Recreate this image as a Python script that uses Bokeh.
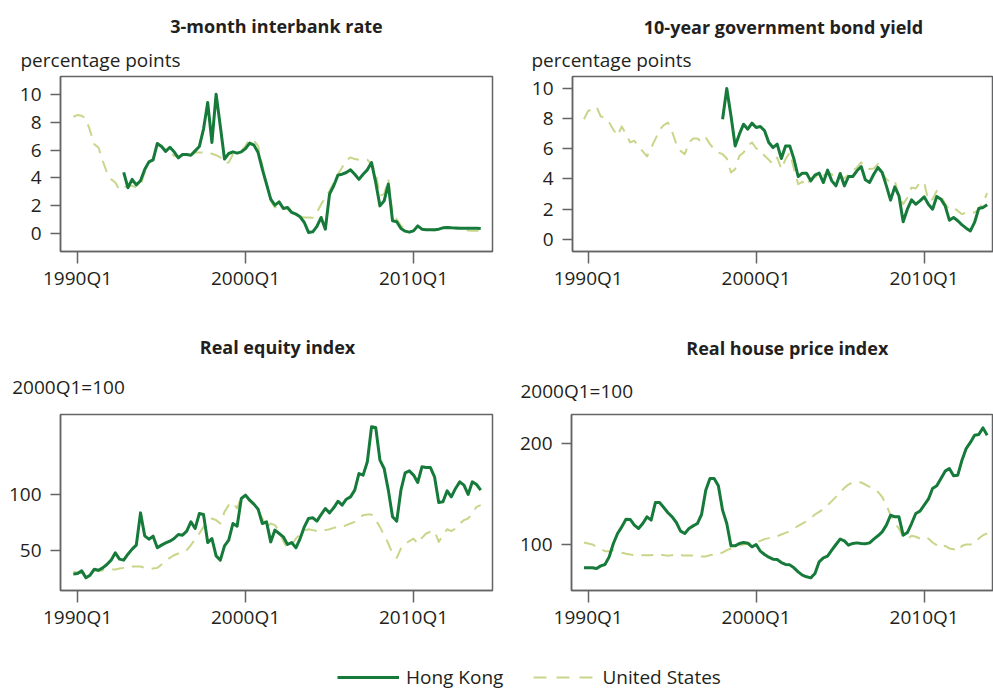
from bokeh.plotting import figure
from bokeh.models import (Range1d, FixedTicker, Label, Legend, LegendItem,
                          CustomJSTickFormatter)
from bokeh.layouts import row, column
from bokeh.embed import file_html
from bokeh.resources import INLINE

# ---------------- data (quarterly) ----------------
us_rate_start = "1989Q4"
us_rate = [8.38, 8.5, 8.45, 8.26, 7.37, 6.42, 6.18, 5.23, 4.39, 3.91,
           3.67, 3.15, 3.32, 3.44, 3.44, 3.32, 3.48, 4.39, 5.06, 5.39,
           6.42, 6.3, 6.01, 5.82, 5.58, 5.54, 5.63, 5.63, 5.63, 5.82,
           5.82, 5.82, 5.82, 5.73, 5.63, 5.47, 5.06, 5.1, 5.7, 5.82,
           5.94, 6.3, 6.78, 6.66, 6.3, 4.87, 3.67, 2.36, 1.89, 2.0,
           1.89, 1.77, 1.53, 1.34, 1.22, 1.17, 1.17, 1.15, 1.53, 2.12,
           2.6, 3.08, 3.67, 4.27, 4.75, 5.3, 5.47, 5.35, 5.3, 5.3,
           5.3, 4.99, 4.39, 2.72, 2.84, 3.91, 1.41, 1.05, 0.57, 0.33,
           0.21, 0.21, 0.53, 0.33, 0.29, 0.29, 0.24, 0.33, 0.43, 0.48,
           0.43, 0.4, 0.33, 0.29, 0.24, 0.21, 0.21, 0.21]
hk_rate_start = "1992Q4"
hk_rate = [4.4, 3.3, 3.9, 3.5, 3.8, 4.6, 5.15, 5.3, 6.47, 6.25,
           5.9, 6.2, 5.87, 5.44, 5.68, 5.68, 5.63, 5.94, 6.25, 7.5,
           9.4, 6.54, 10.0, 7.7, 5.35, 5.75, 5.87, 5.78, 5.87, 6.1,
           6.5, 6.35, 5.82, 4.63, 3.56, 2.48, 2.05, 2.29, 1.81, 1.89,
           1.53, 1.41, 1.22, 0.81, 0.1, 0.14, 0.53, 1.17, 0.33, 2.84,
           3.44, 4.2, 4.27, 4.39, 4.58, 4.27, 3.9, 4.27, 4.58, 5.1,
           3.68, 2.0, 2.36, 3.56, 0.93, 0.86, 0.38, 0.19, 0.12, 0.21,
           0.57, 0.33, 0.29, 0.29, 0.29, 0.33, 0.43, 0.45, 0.43, 0.42,
           0.4, 0.4, 0.4, 0.4, 0.4, 0.38]

us_bond_start = "1989Q4"
us_bond = [7.96, 8.52, 8.58, 8.78, 8.14, 8.08, 7.74, 7.26, 6.86, 7.48,
           6.97, 6.42, 6.53, 6.15, 5.82, 5.49, 6.08, 6.64, 7.26, 7.57,
           7.74, 7.12, 6.31, 5.86, 5.64, 6.42, 6.68, 6.68, 6.46, 6.75,
           6.31, 5.97, 5.75, 5.64, 5.35, 4.42, 4.65, 5.53, 5.75, 6.19,
           6.42, 6.02, 5.93, 5.53, 5.27, 4.98, 5.42, 4.65, 5.31, 5.75,
           4.65, 3.65, 3.81, 3.54, 4.03, 4.2, 3.98, 4.2, 4.42, 4.31,
           3.98, 4.2, 4.03, 4.31, 4.54, 4.76, 5.09, 4.76, 4.65, 4.69,
           4.98, 4.42, 3.98, 3.76, 3.87, 2.88, 2.32, 2.77, 3.43, 3.36,
           3.76, 3.76, 2.54, 2.65, 3.21, 2.88, 2.32, 1.99, 2.1, 1.88,
           1.66, 1.77, 1.77, 1.77, 1.99, 2.43, 3.05]
hk_bond_start = "1998Q1"
hk_bond = [7.96, 10.0, 8.19, 6.19, 6.97, 7.63, 7.3, 7.7, 7.41, 7.48,
           7.19, 6.42, 6.08, 6.31, 5.35, 6.19, 6.19, 5.31, 4.16, 4.38,
           4.38, 3.87, 4.25, 4.38, 3.76, 4.58, 3.87, 3.54, 4.36, 3.54,
           4.16, 4.16, 4.54, 4.82, 3.94, 3.76, 4.31, 4.76, 4.42, 3.54,
           2.59, 3.47, 2.88, 1.15, 1.99, 2.61, 2.32, 2.54, 2.81, 2.32,
           1.99, 2.83, 2.65, 2.21, 1.26, 1.44, 1.22, 0.95, 0.73, 0.55,
           1.11, 2.04, 2.1, 2.28]

hk_equity_start = "1989Q4"
hk_equity = [29.2, 29.8, 32.1, 25.9, 28.3, 33.6, 32.7, 34.8, 37.8, 41.7,
             48.2, 42.6, 41.7, 47.0, 51.5, 55.1, 83.9, 63.4, 60.4, 63.1,
             52.7, 55.1, 57.1, 58.6, 61.0, 64.6, 64.0, 67.6, 75.9, 69.9,
             83.3, 82.4, 57.4, 61.0, 45.5, 41.7, 54.5, 59.5, 74.4, 72.0,
             96.7, 99.7, 95.2, 91.7, 87.2, 74.4, 75.9, 58.0, 68.5, 65.5,
             62.5, 55.7, 57.4, 52.7, 61.0, 71.4, 78.9, 79.5, 76.5, 82.4,
             87.8, 83.9, 88.4, 94.3, 90.8, 96.1, 98.2, 104.2, 119.0, 117.6,
             129.5, 160.7, 160.1, 131.0, 123.5, 104.2, 80.4, 76.5, 104.2, 119.6,
             121.4, 117.6, 111.0, 125.0, 124.4, 124.4, 116.1, 93.2, 93.8, 103.6,
             98.2, 105.7, 111.6, 108.6, 100.3, 111.6, 109.2, 104.2]
us_equity_start = "1989Q4"
us_equity = [31.3, 30.7, 30.7, 29.8, 31.8, 32.7, 31.8, 32.7, 33.3, 33.3,
             33.3, 34.2, 34.8, 35.7, 36.0, 36.0, 36.0, 34.8, 34.2, 34.2,
             34.8, 37.8, 40.8, 43.8, 46.1, 47.6, 49.1, 50.6, 55.1, 60.4,
             65.5, 71.4, 75.9, 78.9, 77.4, 74.4, 84.8, 90.8, 93.2, 87.8,
             98.2, 99.1, 94.3, 90.8, 86.3, 78.9, 71.4, 74.4, 72.9, 67.6,
             58.6, 52.1, 55.7, 61.0, 64.6, 67.6, 69.3, 68.5, 67.6, 68.5,
             68.5, 69.3, 70.5, 71.4, 71.4, 72.9, 74.4, 75.9, 79.5, 81.8,
             82.4, 82.4, 77.4, 71.4, 64.0, 56.5, 47.6, 43.8, 52.1, 56.5,
             58.6, 61.0, 56.5, 61.6, 65.5, 67.0, 67.6, 58.0, 64.0, 69.3,
             67.6, 69.9, 74.4, 77.4, 78.9, 83.3, 89.3, 90.8]

hk_house_start = "1989Q4"
hk_house = [77.0, 77.0, 77.0, 76.3, 78.9, 80.3, 87.8, 101.0, 110.9, 117.4,
            125.0, 124.7, 119.1, 115.8, 120.7, 127.3, 124.0, 141.4, 141.4, 136.5,
            131.3, 127.3, 121.7, 113.2, 110.9, 115.8, 118.4, 120.7, 129.6, 153.6,
            165.1, 165.1, 157.9, 133.9, 120.7, 98.7, 98.7, 101.0, 102.0, 101.3,
            97.7, 100.0, 93.4, 90.1, 87.5, 85.5, 85.2, 82.2, 80.3, 79.9,
            77.0, 73.0, 69.7, 68.1, 67.1, 71.4, 82.9, 86.8, 88.5, 94.4,
            100.0, 105.3, 103.6, 99.3, 101.0, 101.6, 101.0, 100.7, 101.6, 105.3,
            108.6, 112.5, 119.1, 128.9, 127.3, 127.3, 109.2, 111.8, 120.7, 130.6,
            132.9, 138.8, 144.7, 155.3, 157.9, 165.1, 172.4, 175.0, 167.8, 168.4,
            183.2, 194.7, 200.7, 207.9, 208.6, 215.1, 207.9]
us_house_start = "1989Q4"
us_house = [102.0, 101.0, 100.0, 97.7, 95.4, 93.4, 93.4, 94.4, 92.8, 91.8,
            90.8, 90.1, 89.5, 89.5, 89.5, 89.5, 89.5, 90.1, 90.1, 89.5,
            88.8, 89.5, 90.1, 89.5, 89.1, 89.1, 89.1, 88.8, 88.2, 88.2,
            89.5, 90.1, 90.5, 92.1, 94.4, 96.1, 97.7, 99.3, 100.0, 101.0,
            101.0, 102.0, 103.6, 105.3, 106.3, 107.2, 108.2, 109.9, 111.5, 113.2,
            115.8, 118.4, 120.7, 123.0, 126.3, 129.6, 132.2, 134.9, 138.8, 142.8,
            147.0, 151.3, 155.9, 159.2, 161.2, 161.8, 161.2, 159.2, 156.9, 154.6,
            152.0, 147.0, 138.8, 128.9, 120.7, 115.8, 107.6, 105.3, 108.6, 107.6,
            105.9, 104.3, 105.9, 102.0, 99.3, 96.7, 98.7, 96.1, 95.4, 93.4,
            98.7, 100.0, 100.0, 101.0, 105.9, 109.2, 110.9]

tick_years = [1990, 2000, 2010]
rate_ticks = [0, 2, 4, 6, 8, 10]
equity_ticks = [50, 100]
house_ticks = [100, 200]

titles = ["3-month interbank rate", "10-year government bond yield",
          "Real equity index", "Real house price index"]
units = ["percentage points", "percentage points", "2000Q1=100", "2000Q1=100"]
series_names = ["Hong Kong", "United States"]

# ---------------- style ----------------
HK_C = "#167a3a"
US_C = "#c8d68a"
TXT = "#231f20"
OUT = "#636466"
FONT = "Open Sans"
PAGE_W = 993


def qx(start, n):
    y, q = int(start[:4]), int(start[5])
    base = y + (q - 1) / 4.0
    return [base + k / 4.0 for k in range(n)]


def strip(width, height):
    s = figure(width=width, height=height, output_backend="svg",
               toolbar_location=None, x_axis_type=None, y_axis_type=None,
               min_border=0, x_range=Range1d(0, width), y_range=Range1d(0, height))
    s.grid.visible = False
    s.outline_line_color = None
    s.border_fill_color = "white"
    s.background_fill_color = "white"
    return s


def add_text(s, x, y, text, bold=False, size="19px", align="left"):
    s.add_layout(Label(x=x, y=y, text=text, text_font=FONT,
                       text_font_style="bold" if bold else "normal",
                       text_font_size=size, text_color=TXT,
                       text_align=align, text_baseline="alphabetic"))


def panel(width, height, bl, br, bt, fh, xr, yr, yticks,
          us_start, us_vals, hk_start, hk_vals):
    p = figure(width=width, height=height, output_backend="svg",
               toolbar_location=None,
               x_range=Range1d(*xr), y_range=Range1d(*yr),
               min_border_left=bl, min_border_right=br, min_border_top=bt,
               min_border_bottom=height - bt - fh)
    p.grid.visible = False
    p.background_fill_color = "white"
    p.border_fill_color = "white"
    p.outline_line_color = OUT
    p.outline_line_width = 1.5
    p.outline_line_alpha = 1.0

    p.xaxis.ticker = FixedTicker(ticks=tick_years)
    p.xaxis.formatter = CustomJSTickFormatter(code="return tick.toFixed(0) + 'Q1';")
    p.yaxis.ticker = FixedTicker(ticks=yticks)
    for ax in (p.xaxis[0], p.yaxis[0]):
        ax.axis_line_color = OUT
        ax.axis_line_width = 1.5
        ax.major_tick_line_color = OUT
        ax.major_tick_line_width = 1.5
        ax.major_tick_in = 0
        ax.minor_tick_line_color = None
        ax.major_label_text_font = FONT
        ax.major_label_text_font_size = "19px"
        ax.major_label_text_color = TXT
    p.xaxis.major_tick_out = 12
    p.yaxis.major_tick_out = 10
    p.xaxis.major_label_standoff = 1
    p.yaxis.major_label_standoff = 9

    p.line(qx(us_start, len(us_vals)), us_vals, line_color=US_C, line_width=2,
           line_dash="12 8", line_join="round")
    p.line(qx(hk_start, len(hk_vals)), hk_vals, line_color=HK_C, line_width=3,
           line_join="round")
    return p


# header strip for the top row (page y 0..74)
H1 = 74
h1 = strip(PAGE_W, H1)
add_text(h1, 276, H1 - 25.7, titles[0], bold=True, size="18px", align="center")
add_text(h1, 20, H1 - 59.3, units[0])
add_text(h1, 783, H1 - 26, titles[1], bold=True, size="18px", align="center")
add_text(h1, 531, H1 - 59.3, units[1])

# top row (page y 74..320)
pA = panel(500, 246, 60, 8, 2, 175, (1988.988, 2014.70), (-1.267, 11.265),
           rate_ticks, us_rate_start, us_rate, hk_rate_start, hk_rate)
pB = panel(493, 246, 72, 0, 2, 175, (1989.067, 2014.127), (-0.818, 10.796),
           rate_ticks, us_bond_start, us_bond, hk_bond_start, hk_bond)

# header strip for the bottom row (page y 320..405)
h2 = strip(PAGE_W, 85)
add_text(h2, 277, 405 - 346.7, titles[2], bold=True, size="18px", align="center")
add_text(h2, 11.7, 405 - 386, units[2])
add_text(h2, 786.8, 405 - 347.3, titles[3], bold=True, size="18px", align="center")
add_text(h2, 520, 405 - 390, units[3])

# bottom row (page y 405..638)
pC = panel(500, 233, 60, 8, 9, 176, (1988.988, 2014.70), (14.6, 171.7),
           equity_ticks, us_equity_start, us_equity, hk_equity_start, hk_equity)
pD = panel(493, 233, 71, 0, 9, 176, (1989.008, 2014.127), (54.6, 228.3),
           house_ticks, us_house_start, us_house, hk_house_start, hk_house)

# legend strip (page y 638..691)
lg = strip(PAGE_W, 53)
r1 = lg.line(x=[-10, -5], y=[-10, -10], line_color=HK_C, line_width=3)
r2 = lg.line(x=[-10, -5], y=[-10, -10], line_color=US_C, line_width=2,
             line_dash="13 10")
legend = Legend(items=[LegendItem(label=series_names[0], renderers=[r1]),
                       LegendItem(label=series_names[1], renderers=[r2])],
                orientation="horizontal", location=(337, 1),
                glyph_width=62, glyph_height=20, label_standoff=7, spacing=30,
                padding=0, margin=0, border_line_color=None,
                background_fill_alpha=0, label_text_font=FONT,
                label_text_font_size="19px", label_text_color=TXT)
lg.add_layout(legend)

layout = column(h1, row(pA, pB), h2, row(pC, pD), lg)

open("out.html", "w").write(file_html(layout, INLINE))
